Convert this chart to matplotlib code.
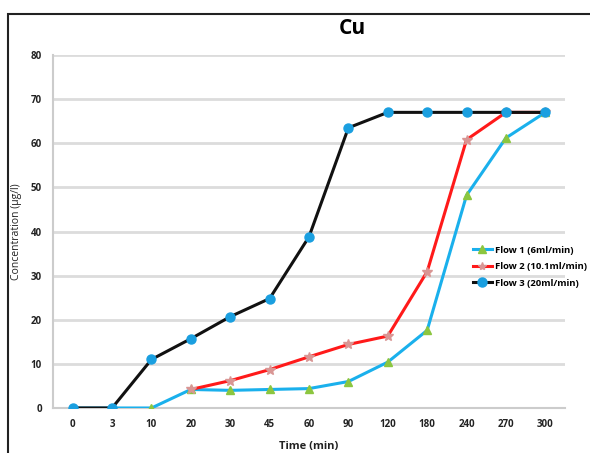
import matplotlib.pyplot as plt
import matplotlib.patches as patches
import numpy as np

plt.rcParams['font.family'] = ['Open Sans', 'DejaVu Sans']

# data
times = ['0', '3', '10', '20', '30', '45', '60', '90', '120', '180', '240', '270', '300']
flow1 = [0, 0, 0, 4.2, 4.0, 4.2, 4.4, 6.0, 10.4, 17.6, 48.2, 61.2, 67]
flow2 = [0, 0, 0, 4.2, 6.2, 8.7, 11.6, 14.4, 16.3, 30.9, 60.8, 67, 67]
flow3 = [0, 0, 11.0, 15.7, 20.7, 24.8, 38.8, 63.5, 67, 67, 67, 67, 67]
labels = ['Flow 1 (6ml/min)', 'Flow 2 (10.1ml/min)', 'Flow 3 (20ml/min)']

fig = plt.figure(figsize=(5.9, 4.53), dpi=100)
ax = fig.add_axes([53/590, 45/453, 512/590, 353/453])

x = np.arange(len(times))
ax.plot(x, flow1, color='#1ab0ec', lw=2.2, marker='^', ms=6,
        mfc='#8cc63f', mec='#8cc63f', label=labels[0], zorder=3)
# red line only visible from 20 min onwards
ax.plot(x[3:], flow2[3:], color='#ff1a1a', lw=2.2, marker='*', ms=7,
        mfc='#d99694', mec='#d99694', zorder=4)
ax.plot([], [], color='#ff1a1a', lw=2.2, marker='*', ms=6,
        mfc='#d99694', mec='#d99694', label=labels[1])
ax.plot(x, flow3, color='#111111', lw=2.2, marker='o', ms=6.5,
        mfc='#1a9fe0', mec='#1a9fe0', label=labels[2], zorder=5)

ax.set_xlim(-0.5, len(times) - 0.5)
ax.set_ylim(0, 80)
ax.set_xticks(x)
ax.set_xticklabels(times)
ax.set_yticks(range(0, 81, 10))
ax.tick_params(axis='both', length=0, labelsize=7, colors='#222222', pad=8)
for t in ax.get_xticklabels() + ax.get_yticklabels():
    t.set_fontweight('bold')
ax.yaxis.grid(True, color='#dcdcdc', lw=2)
ax.set_axisbelow(True)
for s in ['top', 'right']:
    ax.spines[s].set_visible(False)
ax.spines['left'].set_color('#cccccc')
ax.spines['left'].set_linewidth(1.5)
ax.spines['bottom'].set_color('#cccccc')
ax.spines['bottom'].set_linewidth(1.5)

ax.set_ylabel('Concentration (µg/l)', fontsize=7.5, color='#222222', labelpad=6)
ax.set_xlabel('Time (min)', fontsize=8, fontweight='bold', color='#222222', labelpad=8)
fig.text(352/590, 1 - 28/453, 'Cu', fontsize=15, fontweight='bold', ha='center', va='center')

leg = ax.legend(loc='upper left', bbox_to_anchor=(0.82, 0.46), frameon=False,
                fontsize=6.8, handlelength=2.0, labelspacing=0.8, handletextpad=0.3,
                borderaxespad=0, borderpad=0)
for t in leg.get_texts():
    t.set_fontweight('bold')

# outer frame (partly cut at right/bottom)
fig.patches.append(patches.Rectangle((8/590, -0.2), 1.5, 1 - 14/453 + 0.2,
                                     transform=fig.transFigure, fill=False,
                                     edgecolor='#222222', lw=1.5))

fig.savefig('out.png', dpi=100)
